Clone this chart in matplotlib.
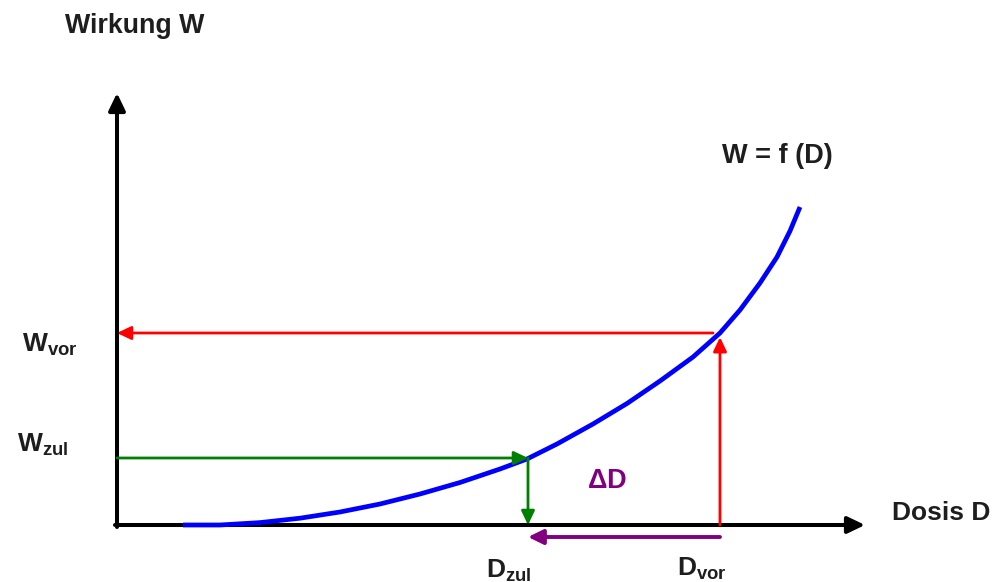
import matplotlib
matplotlib.use("Agg")
import matplotlib.pyplot as plt
from matplotlib.patches import ArrowStyle

plt.rcParams['font.family'] = ['Liberation Sans', 'DejaVu Sans']
plt.rcParams['mathtext.fontset'] = 'custom'
plt.rcParams['mathtext.bf'] = 'Liberation Sans:bold'
plt.rcParams['mathtext.rm'] = 'Liberation Sans'

# ---- data (arbitrary units) ----
curve_D = [0.66, 1.03, 1.43, 1.83, 2.23, 2.63, 3.03, 3.43, 3.83, 4.10, 4.40,
           4.76, 5.10, 5.43, 5.76, 6.03, 6.23, 6.43, 6.60, 6.73, 6.78, 6.83]
curve_W = [0.00, 0.00, 0.024, 0.068, 0.13, 0.21, 0.31, 0.425, 0.56, 0.66, 0.81,
           1.01, 1.215, 1.44, 1.68, 1.92, 2.15, 2.42, 2.68, 2.94, 3.06, 3.18]

D_zul, D_vor = 4.11, 6.03
W_zul, W_vor = 0.67, 1.92
D_axis_end, W_axis_end = 7.48, 4.32
delta_row = -0.12

labels_text = {
    'title': 'Wirkung W',
    'curve': 'W = f (D)',
    'xlabel': 'Dosis D',
    'delta': r'$\mathbf{\Delta D}$',
    'wvor': r'$\mathbf{W}_{\mathbf{vor}}$',
    'wzul': r'$\mathbf{W}_{\mathbf{zul}}$',
    'dzul': r'$\mathbf{D}_{\mathbf{zul}}$',
    'dvor': r'$\mathbf{D}_{\mathbf{vor}}$',
}

RED = '#ff0000'
GREEN = '#008000'
BLUE = '#0000ff'
PURPLE = '#800080'
TXT = '#1e1e1e'

fig = plt.figure(figsize=(9.94, 5.82), dpi=100)
ax = fig.add_axes([0, 0, 1, 1])
ax.set_xlim(-1.17, 8.77)
ax.set_ylim(-0.57, 5.25)
ax.axis('off')


def arrow(x0, y0, x1, y1, color, lw, hl, hw, shA=0, shB=0):
    ax.annotate('', xy=(x1, y1), xytext=(x0, y0),
                arrowprops=dict(arrowstyle=ArrowStyle('-|>', head_length=hl, head_width=hw),
                                color=color, lw=lw, mutation_scale=20,
                                shrinkA=shA, shrinkB=shB))


# axes
arrow(0, -0.02, 0, W_axis_end, 'black', 2.9, 0.52, 0.25)
arrow(-0.02, 0, D_axis_end, 0, 'black', 2.9, 0.52, 0.25)

# curve
ax.plot(curve_D, curve_W, color=BLUE, lw=3.4, solid_capstyle='butt',
        solid_joinstyle='round', zorder=3)

# red arrows
arrow(D_vor, W_vor, 0, W_vor, RED, 2.0, 0.42, 0.2, shA=5)
arrow(D_vor, 0, D_vor, W_vor, RED, 2.0, 0.42, 0.2, shB=3)

# green arrows
arrow(0, W_zul, D_zul, W_zul, GREEN, 2.0, 0.42, 0.2)
arrow(D_zul, W_zul, D_zul, 0, GREEN, 2.0, 0.42, 0.2)

# purple delta arrow
arrow(D_vor, delta_row, D_zul, delta_row, PURPLE, 2.8, 0.45, 0.22)

# texts
ax.text(-0.52, 4.99, labels_text['title'], fontsize=19.3, fontweight='bold',
        color=TXT, ha='left', va='center')
ax.text(6.05, 3.69, labels_text['curve'], fontsize=19.5, fontweight='bold',
        color=TXT, ha='left', va='center')
ax.text(7.75, 0.12, labels_text['xlabel'], fontsize=19, fontweight='bold',
        color=TXT, ha='left', va='center')
ax.text(4.70, 0.44, labels_text['delta'], fontsize=19.5, color=PURPLE,
        ha='left', va='center')
ax.text(-0.95, 1.74, labels_text['wvor'], fontsize=19, color=TXT,
        ha='left', va='baseline')
ax.text(-1.00, 0.73, labels_text['wzul'], fontsize=19, color=TXT,
        ha='left', va='baseline')
ax.text(3.69, -0.52, labels_text['dzul'], fontsize=19, color=TXT,
        ha='left', va='baseline')
ax.text(5.60, -0.50, labels_text['dvor'], fontsize=19, color=TXT,
        ha='left', va='baseline')

fig.savefig('out.png', dpi=100)
